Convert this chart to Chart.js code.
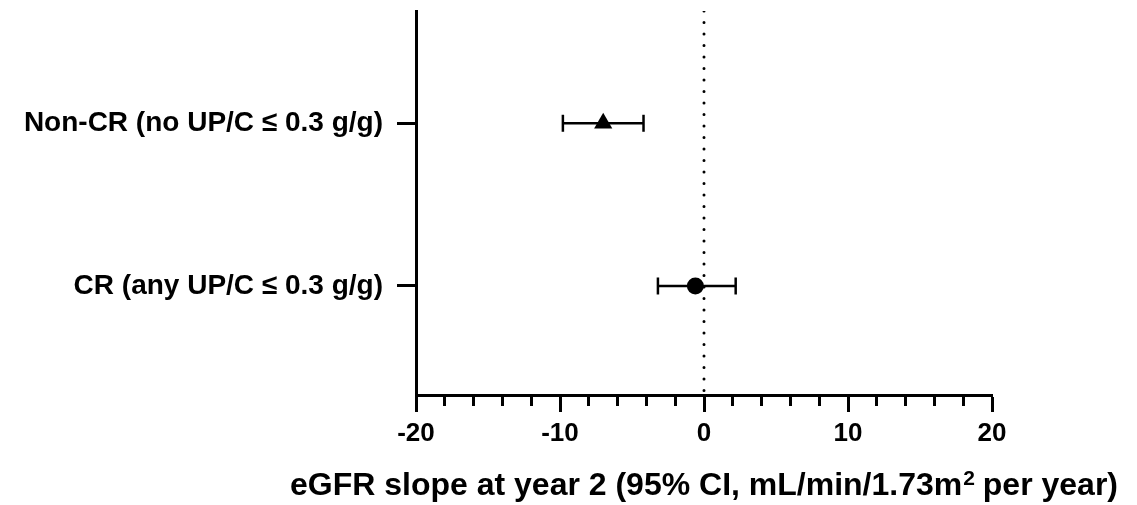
<!DOCTYPE html>
<html>
<head>
<meta charset="utf-8">
<script src="https://cdn.jsdelivr.net/npm/chart.js@4"></script>
<style>
  html, body { margin: 0; padding: 0; background: #fff; }
  #wrap { width: 1137px; height: 505px; }
</style>
</head>
<body>
<div id="wrap"><canvas id="slopeChart"></canvas></div>
<script>
// groups, top to bottom
const categories = ['Non-CR (no UP/C ≤ 0.3 g/g)', 'CR (any UP/C ≤ 0.3 g/g)'];
const estimates = [-7.0, -0.6];
const ciLower = [-9.8, -3.2];
const ciUpper = [-4.2, 2.2];
const markerStyles = ['triangle', 'circle'];
const xTickLabels = ['-20', '-10', '0', '10', '20'];
const xMin = -20, xMax = 20;
const yMin = -0.69, yMax = 1.67;
const referenceX = 0;

const titleMain = 'eGFR slope at year 2 (95% CI, mL/min/1.73m';
const titleSup = '2';
const titleTail = ' per year)';

const FONT = '"Liberation Sans", Arial, sans-serif';

// one line dataset per group for the CI whiskers, caps are rotated line points
const ciSets = categories.map((c, i) => ({
    type: 'line',
    data: [{ x: ciLower[i], y: i }, { x: ciUpper[i], y: i }],
    borderColor: '#000',
    borderWidth: 2.5,
    pointStyle: 'line',
    pointRotation: 90,
    pointRadius: 8.5,
    pointBorderWidth: 2.5,
    pointBorderColor: '#000',
    order: 2,
    clip: false
}));

const axisTitle = {
    id: 'axisTitle',
    afterDraw(chart) {
        const ctx = chart.ctx;
        const area = chart.chartArea;
        const cx = (area.left + area.right) / 2;
        const y = 495;
        ctx.save();
        ctx.fillStyle = '#000';
        ctx.textBaseline = 'alphabetic';
        ctx.textAlign = 'left';
        ctx.font = 'bold 32px ' + FONT;
        const w1 = ctx.measureText(titleMain).width;
        const w3 = ctx.measureText(titleTail).width;
        ctx.font = 'bold 21px ' + FONT;
        const w2 = ctx.measureText(titleSup).width;
        let x = cx - (w1 + w2 + w3) / 2;
        ctx.font = 'bold 32px ' + FONT;
        ctx.fillText(titleMain, x, y);
        x += w1;
        ctx.font = 'bold 21px ' + FONT;
        ctx.fillText(titleSup, x + 1, y - 10);
        x += w2;
        ctx.font = 'bold 32px ' + FONT;
        ctx.fillText(titleTail, x, y);
        ctx.restore();
    }
};

new Chart(document.getElementById('slopeChart'), {
    type: 'scatter',
    data: {
        datasets: [
            {
                data: estimates.map((v, i) => ({ x: v, y: i })),
                pointStyle: markerStyles,
                pointRadius: [10.5, 8.5],
                backgroundColor: '#000',
                borderColor: '#000',
                borderWidth: 0,
                order: 0,
                clip: false
            },
            ...ciSets,
            {
                type: 'line',
                data: [{ x: referenceX, y: yMin }, { x: referenceX, y: yMax }],
                borderColor: '#000',
                borderWidth: 3,
                borderDash: [0, 11.5],
                borderCapStyle: 'round',
                pointRadius: 0,
                order: 3
            }
        ]
    },
    options: {
        responsive: true,
        maintainAspectRatio: false,
        animation: false,
        layout: { padding: { top: 10, right: 145, left: 0, bottom: 0 } },
        plugins: {
            legend: { display: false },
            tooltip: { enabled: false }
        },
        scales: {
            x: {
                type: 'linear',
                min: xMin,
                max: xMax,
                afterFit(scale) { scale.height = 110; },
                ticks: {
                    stepSize: 2,
                    autoSkip: false,
                    maxRotation: 0,
                    padding: 6,
                    color: '#000',
                    font: { family: FONT, size: 26, weight: 'bold' },
                    callback(v) {
                        const idx = xTickLabels.indexOf(String(v));
                        return idx >= 0 ? xTickLabels[idx] : '';
                    }
                },
                grid: {
                    drawOnChartArea: false,
                    color: '#000',
                    tickLength: 17,
                    tickWidth: 3,
                    tickColor: '#000',
                    tickBorderDash(ctx) {
                        const v = ctx.tick ? ctx.tick.value : 0;
                        return v % 10 === 0 ? [] : [9, 100];
                    }
                },
                border: { color: '#000', width: 3 }
            },
            y: {
                type: 'linear',
                reverse: true,
                min: yMin,
                max: yMax,
                afterFit(scale) {
                    scale.width = 416;
                    scale.paddingTop = 0;
                    scale.paddingBottom = 0;
                },
                afterBuildTicks(scale) {
                    scale.ticks = categories.map((c, i) => ({ value: i }));
                },
                ticks: {
                    padding: 14,
                    color: '#000',
                    font: { family: FONT, size: 28, weight: 'bold' },
                    callback(v) { return categories[v]; }
                },
                grid: {
                    drawOnChartArea: false,
                    color: '#000',
                    tickLength: 19,
                    tickWidth: 3,
                    tickColor: '#000'
                },
                border: { color: '#000', width: 3 }
            }
        }
    },
    plugins: [axisTitle]
});
</script>
</body>
</html>
